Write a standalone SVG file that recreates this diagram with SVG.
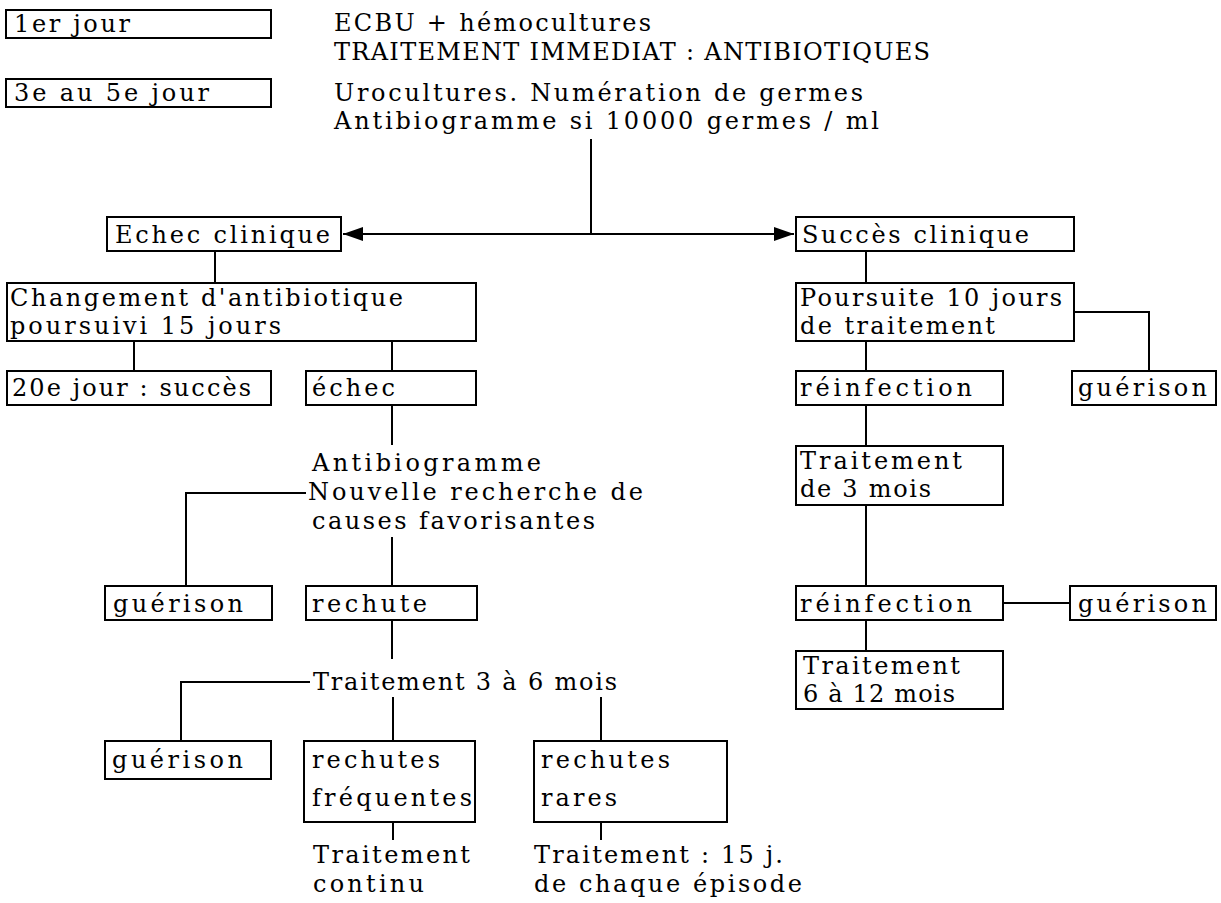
<svg xmlns="http://www.w3.org/2000/svg" width="1221" height="903" viewBox="0 0 1221 903">
<defs>
<style>
text{font-family:"DejaVu Serif","Liberation Serif",serif;font-size:24px;fill:#000;}
.b{fill:#fff;stroke:#000;stroke-width:2;}
.c{fill:none;stroke:#000;stroke-width:2;}
</style>
<marker id="ah" markerUnits="userSpaceOnUse" markerWidth="20" markerHeight="14" refX="20" refY="7" orient="auto-start-reverse"><path d="M0,0 L20,7 L0,14 z" fill="#000"/></marker>
</defs>
<rect width="1221" height="903" fill="#fff"/>
<g id="connectors">
<path class="c" d="M591,139 V234"/>
<path class="c" d="M343,234 H794" marker-start="url(#ah)" marker-end="url(#ah)"/>
<path class="c" d="M215,251 V283"/>
<path class="c" d="M866,251 V283"/>
<path class="c" d="M134,341 V371"/>
<path class="c" d="M392,341 V371"/>
<path class="c" d="M866,341 V371"/>
<path class="c" d="M1074,312 H1149 V371"/>
<path class="c" d="M392,405 V445"/>
<path class="c" d="M866,405 V446"/>
<path class="c" d="M306,493 H186 V586"/>
<path class="c" d="M392,537 V586"/>
<path class="c" d="M866,505 V586"/>
<path class="c" d="M1003,603 H1070"/>
<path class="c" d="M392,620 V659"/>
<path class="c" d="M866,620 V651"/>
<path class="c" d="M310,682 H181 V741"/>
<path class="c" d="M393,697 V741"/>
<path class="c" d="M601,697 V741"/>
<path class="c" d="M393,822 V840"/>
<path class="c" d="M601,822 V840"/>
</g>
<g id="n-jour1"><rect class="b" x="6" y="10" width="265" height="28"/><text x="14" y="32" textLength="116" lengthAdjust="spacing">1er jour</text></g>
<g id="n-jour3"><rect class="b" x="6" y="79" width="265" height="28"/><text x="14" y="101" textLength="195" lengthAdjust="spacing">3e au 5e jour</text></g>
<g id="t-ecbu"><text x="334" y="31" textLength="317" lengthAdjust="spacing">ECBU + hémocultures</text><text x="334" y="60" textLength="596" lengthAdjust="spacing">TRAITEMENT IMMEDIAT : ANTIBIOTIQUES</text></g>
<g id="t-uro"><text x="334" y="101" textLength="529" lengthAdjust="spacing">Urocultures. Numération de germes</text><text x="334" y="129" textLength="545" lengthAdjust="spacing">Antibiogramme si 10000 germes / ml</text></g>
<g id="n-echec-clin"><rect class="b" x="107" y="217" width="234" height="34"/><text x="115" y="243" textLength="215" lengthAdjust="spacing">Echec clinique</text></g>
<g id="n-succes-clin"><rect class="b" x="796" y="217" width="278" height="34"/><text x="802" y="243" textLength="227" lengthAdjust="spacing">Succès clinique</text></g>
<g id="n-changement"><rect class="b" x="7" y="283" width="469" height="58"/><text x="10" y="306" textLength="393" lengthAdjust="spacing">Changement d'antibiotique</text><text x="10" y="334" textLength="271" lengthAdjust="spacing">poursuivi 15 jours</text></g>
<g id="n-poursuite"><rect class="b" x="796" y="283" width="278" height="58"/><text x="800" y="306" textLength="262" lengthAdjust="spacing">Poursuite 10 jours</text><text x="800" y="334" textLength="195" lengthAdjust="spacing">de traitement</text></g>
<g id="n-20e"><rect class="b" x="7" y="371" width="264" height="34"/><text x="12" y="396" textLength="239" lengthAdjust="spacing">20e jour : succès</text></g>
<g id="n-echec"><rect class="b" x="306" y="371" width="170" height="34"/><text x="312" y="396" textLength="83" lengthAdjust="spacing">échec</text></g>
<g id="n-reinf1"><rect class="b" x="796" y="371" width="207" height="34"/><text x="800" y="396" textLength="172" lengthAdjust="spacing">réinfection</text></g>
<g id="n-guer1"><rect class="b" x="1072" y="371" width="144" height="34"/><text x="1078" y="396" textLength="129" lengthAdjust="spacing">guérison</text></g>
<g id="t-antibio"><text x="312" y="471" textLength="229" lengthAdjust="spacing">Antibiogramme</text><text x="308" y="500" textLength="335" lengthAdjust="spacing">Nouvelle recherche de</text><text x="312" y="529" textLength="283" lengthAdjust="spacing">causes favorisantes</text></g>
<g id="n-trait3m"><rect class="b" x="796" y="446" width="207" height="59"/><text x="800" y="469" textLength="162" lengthAdjust="spacing">Traitement</text><text x="800" y="497" textLength="131" lengthAdjust="spacing">de 3 mois</text></g>
<g id="n-guer2"><rect class="b" x="105" y="586" width="167" height="34"/><text x="113" y="612" textLength="130" lengthAdjust="spacing">guérison</text></g>
<g id="n-rechute"><rect class="b" x="306" y="586" width="171" height="34"/><text x="312" y="612" textLength="115" lengthAdjust="spacing">rechute</text></g>
<g id="n-reinf2"><rect class="b" x="796" y="586" width="207" height="34"/><text x="800" y="612" textLength="172" lengthAdjust="spacing">réinfection</text></g>
<g id="n-guer3"><rect class="b" x="1070" y="586" width="146" height="34"/><text x="1078" y="612" textLength="129" lengthAdjust="spacing">guérison</text></g>
<g id="n-trait612"><rect class="b" x="796" y="651" width="207" height="58"/><text x="803" y="674" textLength="157" lengthAdjust="spacing">Traitement</text><text x="803" y="702" textLength="152" lengthAdjust="spacing">6 à 12 mois</text></g>
<g id="t-trait36"><text x="313" y="690" textLength="304" lengthAdjust="spacing">Traitement 3 à 6 mois</text></g>
<g id="n-guer4"><rect class="b" x="105" y="741" width="166" height="38"/><text x="112" y="768" textLength="131" lengthAdjust="spacing">guérison</text></g>
<g id="n-rech-freq"><rect class="b" x="304" y="741" width="171" height="81"/><text x="312" y="768" textLength="128" lengthAdjust="spacing">rechutes</text><text x="312" y="806" textLength="160" lengthAdjust="spacing">fréquentes</text></g>
<g id="n-rech-rares"><rect class="b" x="534" y="741" width="193" height="81"/><text x="541" y="768" textLength="129" lengthAdjust="spacing">rechutes</text><text x="541" y="806" textLength="76" lengthAdjust="spacing">rares</text></g>
<g id="t-continu"><text x="313" y="863" textLength="157" lengthAdjust="spacing">Traitement</text><text x="313" y="892" textLength="111" lengthAdjust="spacing">continu</text></g>
<g id="t-15j"><text x="534" y="863" textLength="249" lengthAdjust="spacing">Traitement : 15 j.</text><text x="534" y="892" textLength="268" lengthAdjust="spacing">de chaque épisode</text></g>
</svg>
